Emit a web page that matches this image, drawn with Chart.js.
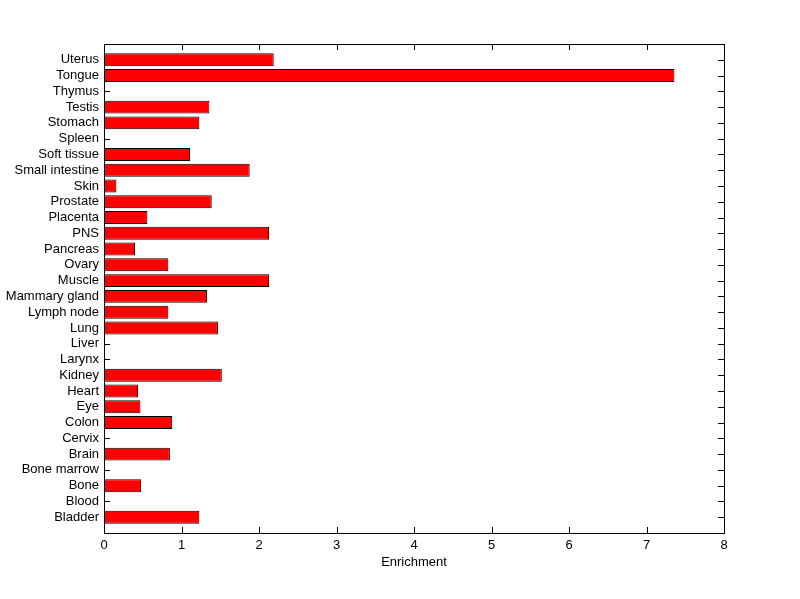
<!DOCTYPE html>
<html>
<head>
<meta charset="utf-8">
<script src="https://cdn.jsdelivr.net/npm/chart.js@4/dist/chart.umd.min.js"></script>
<style>
  html, body { margin: 0; padding: 0; background: #fff; }
  #wrap { width: 800px; height: 599px; }
</style>
</head>
<body>
<div id="wrap"><canvas id="chart" width="800" height="599"></canvas></div>
<script>
// tissues, bottom (1) to top (30) like the original barh
const tissues = ['Bladder', 'Blood', 'Bone', 'Bone marrow', 'Brain', 'Cervix', 'Colon', 'Eye',
    'Heart', 'Kidney', 'Larynx', 'Liver', 'Lung', 'Lymph node', 'Mammary gland', 'Muscle',
    'Ovary', 'Pancreas', 'PNS', 'Placenta', 'Prostate', 'Skin', 'Small intestine',
    'Soft tissue', 'Spleen', 'Stomach', 'Testis', 'Thymus', 'Tongue', 'Uterus'];
const enrichment = [1.23, 0, 0.48, 0, 0.85, 0, 0.88, 0.47,
    0.44, 1.52, 0, 0, 1.47, 0.83, 1.33, 2.13,
    0.83, 0.40, 2.13, 0.56, 1.39, 0.16, 1.88,
    1.11, 0, 1.23, 1.36, 0, 7.36, 2.19];
const xTicks = [0, 1, 2, 3, 4, 5, 6, 7, 8];

const font = { family: 'Liberation Sans, Arial, sans-serif', size: 13 };

// matlab-style box with inward ticks on all four sides
const boxTicks = {
    id: 'boxTicks',
    beforeDatasetsDraw(chart) {
        const ctx = chart.ctx;
        const a = chart.chartArea;
        const xs = chart.scales.x, ys = chart.scales.y;
        const len = 6;
        ctx.save();
        ctx.strokeStyle = '#000';
        ctx.lineWidth = 1;
        ctx.beginPath();
        xs.ticks.forEach(t => {
            const px = Math.round(xs.getPixelForValue(t.value)) + 0.5;
            ctx.moveTo(px, a.bottom); ctx.lineTo(px, a.bottom - len);
            ctx.moveTo(px, a.top); ctx.lineTo(px, a.top + len);
        });
        ys.ticks.forEach(t => {
            const py = Math.round(ys.getPixelForValue(t.value)) + 0.5;
            ctx.moveTo(a.left, py); ctx.lineTo(a.left + len, py);
            ctx.moveTo(a.right, py); ctx.lineTo(a.right - len, py);
        });
        ctx.stroke();
        ctx.restore();
    },
    afterDraw(chart) {
        const ctx = chart.ctx;
        const a = chart.chartArea;
        ctx.save();
        ctx.strokeStyle = '#000';
        ctx.lineWidth = 1;
        ctx.strokeRect(Math.round(a.left) + 0.5, Math.round(a.top) + 0.5,
            Math.round(a.right - a.left), Math.round(a.bottom - a.top));
        ctx.restore();
    }
};

new Chart(document.getElementById('chart').getContext('2d'), {
    type: 'bar',
    data: {
        datasets: [{
            data: enrichment.map((v, i) => ({ x: v, y: i + 1 })),
            backgroundColor: '#ff0000',
            borderColor: '#000000',
            borderWidth: 1,
            borderSkipped: false,
            barPercentage: 0.82,
            categoryPercentage: 1
        }]
    },
    options: {
        indexAxis: 'y',
        responsive: false,
        animation: false,
        layout: { padding: { top: 44, right: 76, left: 0, bottom: 0 } },
        plugins: { legend: { display: false }, tooltip: { enabled: false } },
        scales: {
            x: {
                type: 'linear',
                min: 0, max: 8,
                afterBuildTicks: s => { s.ticks = xTicks.map(v => ({ value: v })); },
                afterFit: s => { s.height = 66; },
                grid: { display: false, drawTicks: false, tickLength: 0 },
                border: { display: false },
                ticks: { color: '#000', font: font, padding: 5 },
                title: { display: true, text: 'Enrichment', color: '#000', font: font, padding: { top: 0, bottom: 29 } }
            },
            y: {
                type: 'linear',
                min: 0, max: 31,
                offset: false,
                afterBuildTicks: s => { s.ticks = tissues.map((t, i) => ({ value: i + 1 })); },
                afterFit: s => { s.width = 104; },
                grid: { display: false, drawTicks: false, tickLength: 0 },
                border: { display: false },
                ticks: {
                    color: '#000', font: font, padding: 5, autoSkip: false,
                    callback: v => tissues[v - 1]
                }
            }
        }
    },
    plugins: [boxTicks]
});
</script>
</body>
</html>
